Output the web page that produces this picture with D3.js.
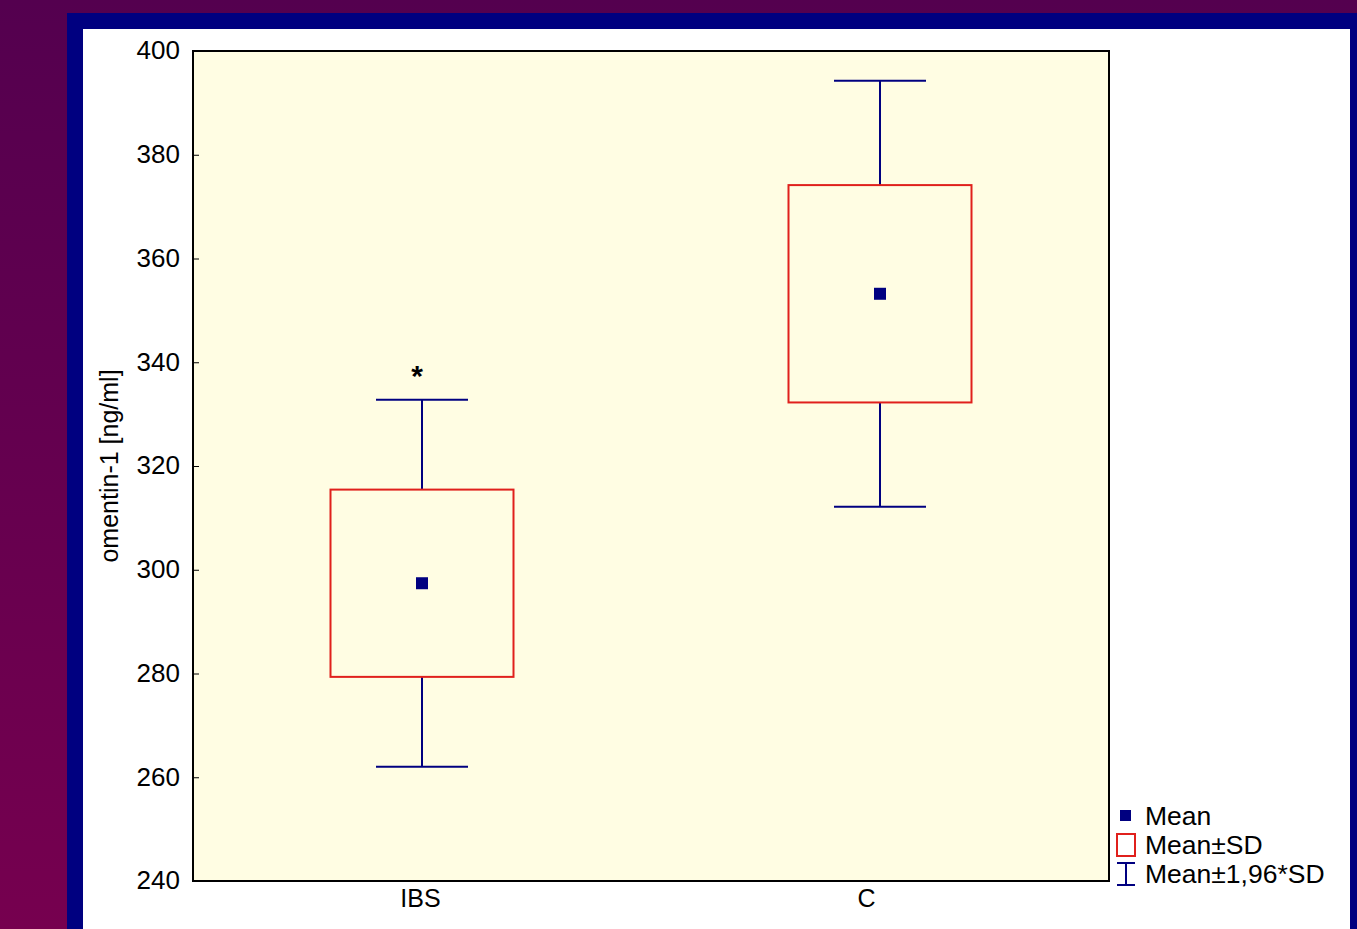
<!DOCTYPE html>
<html>
<head>
<meta charset="utf-8">
<script src="https://cdn.jsdelivr.net/npm/d3@7"></script>
<style>
  html, body { margin: 0; padding: 0; background: #fff; }
  svg { display: block; }
</style>
</head>
<body>
<svg id="chart" width="1357" height="929"></svg>
<script>
// Groups and their summary statistics (omentin-1, ng/ml)
const categories = ["IBS", "C"];
const means = [297.4, 353.2];
const sds = [18.05, 20.95];
const whiskerFactor = 1.96;
const yTicks = [240, 260, 280, 300, 320, 340, 360, 380, 400];
const legendLabels = ["Mean", "Mean\u00b1SD", "Mean\u00b11,96*SD"];
const significant = [true, false];

const svg = d3.select("#chart");
const W = 1357, H = 929;

// Slide background: purple gradient, navy frame, white panel
const defs = svg.append("defs");
const grad = defs.append("linearGradient").attr("id", "bg").attr("x1", 0).attr("y1", 0).attr("x2", 0).attr("y2", 1);
grad.append("stop").attr("offset", "0%").attr("stop-color", "#54004f");
grad.append("stop").attr("offset", "100%").attr("stop-color", "#76004f");
svg.append("rect").attr("width", W).attr("height", H).attr("fill", "url(#bg)");
svg.append("rect").attr("x", 67).attr("y", 13).attr("width", W - 67).attr("height", H - 13).attr("fill", "#000080");
svg.append("rect").attr("x", 83).attr("y", 29).attr("width", 1350 - 83).attr("height", H - 29).attr("fill", "#ffffff");

const plot = { left: 193, top: 51, right: 1109, bottom: 881 };

const x = d3.scalePoint().domain(categories).range([plot.left, plot.right]).padding(0.5);
const y = d3.scaleLinear().domain([240, 400]).range([plot.bottom, plot.top]);

// Plot area
svg.append("rect")
  .attr("x", plot.left).attr("y", plot.top)
  .attr("width", plot.right - plot.left).attr("height", plot.bottom - plot.top)
  .attr("fill", "#fffde3");

const font = "Liberation Sans, Arial, sans-serif";
const fs = 25;

// Y axis with inward ticks
const yAxis = svg.append("g")
  .attr("transform", `translate(${plot.left},0)`)
  .call(d3.axisLeft(y).tickValues(yTicks).tickSize(-6).tickPadding(13).tickFormat(d3.format("d")));
yAxis.select(".domain").remove();
yAxis.selectAll(".tick line").attr("stroke", "#000").attr("stroke-width", 1);
yAxis.selectAll(".tick text")
  .attr("font-family", font).attr("font-size", 26).attr("fill", "#000")
  .attr("dy", "0.3em");

// X axis labels
const xAxis = svg.append("g")
  .attr("transform", `translate(0,${plot.bottom})`)
  .call(d3.axisBottom(x).tickSize(0).tickPadding(8));
xAxis.select(".domain").remove();
xAxis.selectAll(".tick text")
  .attr("font-family", font).attr("font-size", fs).attr("fill", "#000")
  .attr("dx", (d, i) => i === 1 ? -14 : -2);

// Frame
svg.append("rect")
  .attr("x", plot.left).attr("y", plot.top)
  .attr("width", plot.right - plot.left).attr("height", plot.bottom - plot.top)
  .attr("fill", "none").attr("stroke", "#000").attr("stroke-width", 2);

// Y axis title
svg.append("text")
  .attr("transform", `translate(118,${(plot.top + plot.bottom) / 2}) rotate(-90)`)
  .attr("text-anchor", "middle")
  .attr("font-family", font).attr("font-size", fs).attr("fill", "#000")
  .text("omentin-1 [ng/ml]");

const boxW = 183, capW = 92, markS = 12;
const navy = "#000080", red = "#e0201c";

const groups = svg.append("g").selectAll("g")
  .data(categories.map((c, i) => ({ c, m: means[i], sd: sds[i], sig: significant[i] })))
  .join("g");

// Whiskers: mean ± 1.96*SD
groups.append("line")
  .attr("x1", d => x(d.c)).attr("x2", d => x(d.c))
  .attr("y1", d => y(d.m + whiskerFactor * d.sd)).attr("y2", d => y(d.m - whiskerFactor * d.sd))
  .attr("stroke", navy).attr("stroke-width", 2);
[1, -1].forEach(s => {
  groups.append("line")
    .attr("x1", d => x(d.c) - capW / 2).attr("x2", d => x(d.c) + capW / 2)
    .attr("y1", d => y(d.m + s * whiskerFactor * d.sd)).attr("y2", d => y(d.m + s * whiskerFactor * d.sd))
    .attr("stroke", navy).attr("stroke-width", 2);
});

// Boxes: mean ± SD
groups.append("rect")
  .attr("x", d => x(d.c) - boxW / 2).attr("width", boxW)
  .attr("y", d => y(d.m + d.sd)).attr("height", d => y(d.m - d.sd) - y(d.m + d.sd))
  .attr("fill", "#fffde3").attr("stroke", red).attr("stroke-width", 2);

// Mean markers
groups.append("rect")
  .attr("x", d => x(d.c) - markS / 2).attr("y", d => y(d.m) - markS / 2)
  .attr("width", markS).attr("height", markS).attr("fill", navy);

// Significance marker
groups.filter(d => d.sig).append("text")
  .attr("x", d => x(d.c) - 5).attr("y", d => y(d.m + whiskerFactor * d.sd) - 14)
  .attr("text-anchor", "middle")
  .attr("font-family", font).attr("font-size", 30).attr("font-weight", "bold").attr("fill", "#000")
  .text("*");

// Legend
const lg = svg.append("g").attr("transform", "translate(1116,0)");
lg.append("rect").attr("x", 4).attr("y", 810).attr("width", 11).attr("height", 11).attr("fill", navy);
lg.append("rect").attr("x", 1).attr("y", 834).attr("width", 18).attr("height", 22).attr("fill", "none").attr("stroke", red).attr("stroke-width", 2);
lg.append("line").attr("x1", 10).attr("x2", 10).attr("y1", 863).attr("y2", 885).attr("stroke", navy).attr("stroke-width", 2);
lg.append("line").attr("x1", 1).attr("x2", 19).attr("y1", 863).attr("y2", 863).attr("stroke", navy).attr("stroke-width", 2);
lg.append("line").attr("x1", 1).attr("x2", 19).attr("y1", 885).attr("y2", 885).attr("stroke", navy).attr("stroke-width", 2);
lg.selectAll("text.lbl").data(legendLabels).join("text")
  .attr("class", "lbl")
  .attr("x", 29).attr("y", (d, i) => 825 + i * 29)
  .attr("font-family", font).attr("font-size", 26.5).attr("fill", "#000")
  .text(d => d);
</script>
</body>
</html>
